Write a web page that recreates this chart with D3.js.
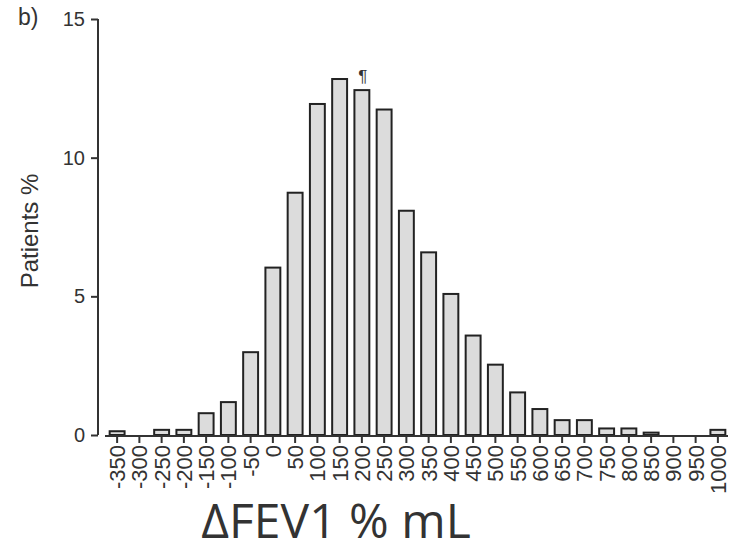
<!DOCTYPE html>
<html>
<head>
<meta charset="utf-8">
<script src="https://cdn.jsdelivr.net/npm/d3@7"></script>
<style>
  body { margin: 0; background: #fff; }
  text { font-family: "Liberation Sans", Arial, sans-serif; fill: #333; }
</style>
</head>
<body>
<div id="chart"></div>
<script>
// bins of change in FEV1 (mL) and share of patients (%)
const bins = [-350, -300, -250, -200, -150, -100, -50, 0, 50, 100, 150, 200, 250, 300,
  350, 400, 450, 500, 550, 600, 650, 700, 750, 800, 850, 900, 950, 1000];
const patients = [0.1, 0, 0.15, 0.15, 0.75, 1.15, 2.95, 6.0, 8.7, 11.9, 12.8, 12.4, 11.7, 8.05,
  6.55, 5.05, 3.55, 2.5, 1.5, 0.9, 0.5, 0.5, 0.2, 0.2, 0.05, 0, 0, 0.15];
const yTicks = [0, 5, 10, 15];
const markedBin = 200;

const width = 733, height = 552;
const svg = d3.select("#chart").append("svg")
  .attr("width", width).attr("height", height);

const x = d3.scaleBand()
  .domain(bins)
  .range([106, 729])
  .paddingInner(0.33)
  .paddingOuter(0.165);

const y = d3.scaleLinear().domain([0, 15]).range([435, 19]);

const ink = "#333";
const sans = "'Liberation Sans', Arial, sans-serif";

// bars (empty bins draw nothing)
svg.append("g")
  .selectAll("rect")
  .data(bins.map((b, i) => ({ bin: b, v: patients[i] })).filter(d => d.v > 0))
  .join("rect")
  .attr("x", d => x(d.bin))
  .attr("width", x.bandwidth())
  .attr("y", d => y(d.v) - 1)
  .attr("height", d => y(0) - y(d.v) + 1)
  .attr("fill", "#dcdcdc")
  .attr("stroke", "#222")
  .attr("stroke-width", 2);

// y axis
const yAxis = svg.append("g")
  .attr("transform", "translate(98,0)")
  .call(d3.axisLeft(y).tickValues(yTicks).tickSize(7).tickPadding(6));
yAxis.selectAll("path, line").attr("stroke", ink).attr("stroke-width", 2);
yAxis.select(".domain").attr("d", `M0,${y(15)}V${y(0)}`);
yAxis.selectAll("text").attr("font-size", 20).attr("fill", ink)
  .style("font-family", sans);

// x axis
const xAxis = svg.append("g")
  .attr("transform", `translate(0,${y(0) + 1})`)
  .call(d3.axisBottom(x).tickSize(7).tickPadding(4));
xAxis.selectAll("path, line").attr("stroke", ink).attr("stroke-width", 2);
xAxis.select(".domain").attr("d", "M105,0H728");
xAxis.selectAll("text")
  .attr("font-size", 22).attr("fill", ink)
  .style("font-family", sans)
  .attr("text-anchor", "end")
  .attr("dy", "0.36em")
  .attr("transform", "translate(0,2) rotate(-90)")
  .attr("x", -7).attr("y", 0);

// marker above the 200 bin
svg.append("text")
  .attr("x", x(markedBin) + x.bandwidth() / 2 + 1)
  .attr("y", y(patients[bins.indexOf(markedBin)]) - 9)
  .attr("text-anchor", "middle")
  .attr("font-size", 17)
  .attr("fill", ink)
  .text("¶");

// panel letter
svg.append("text").attr("x", 18).attr("y", 25).attr("font-size", 23).attr("fill", ink).text("b)");

// y label
svg.append("text")
  .attr("transform", `translate(38,${(y(0) + y(15)) / 2 + 4}) rotate(-90)`)
  .attr("text-anchor", "middle")
  .attr("font-size", 24)
  .attr("fill", ink)
  .text("Patients %");

// x label
svg.append("text")
  .attr("x", 336).attr("y", 538)
  .attr("text-anchor", "middle")
  .attr("font-size", 48)
  .style("font-family", "'Open Sans', sans-serif")
  .attr("fill", "#000")
  .text("ΔFEV1 % mL");
</script>
</body>
</html>
